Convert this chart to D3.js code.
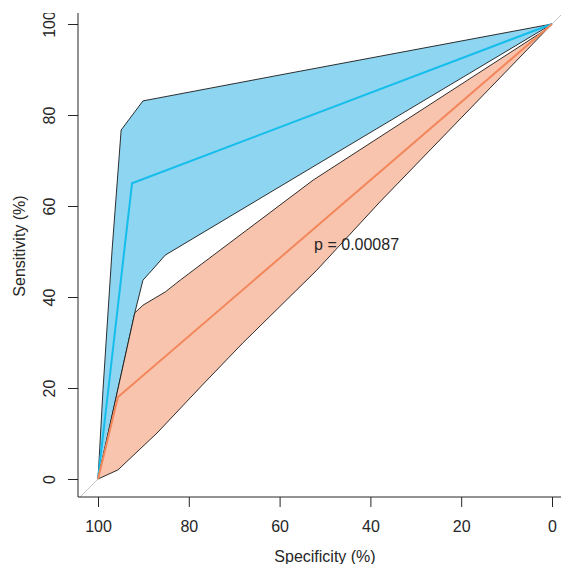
<!DOCTYPE html>
<html lang="en">
<head>
<meta charset="UTF-8"/>
<title>ROC curves</title>
<script src="https://d3js.org/d3.v7.min.js"></script>
<style type="text/css">
  body { margin: 0; background: #fff; }
  text { font-family: "Liberation Sans", Arial, sans-serif; fill: #262626; }
  .band { stroke: #1a1a1a; stroke-width: 0.9; stroke-linejoin: round; }
  .roc { fill: none; stroke-width: 2; }
</style>
</head>
<body>
<script>

// tick labels
var specTicks = [100, 80, 60, 40, 20, 0];
var sensTicks = [0, 20, 40, 60, 80, 100];

// first curve (blue) and its confidence band
var rocASpec = [100, 92.5, 0];
var rocASens = [0, 65, 100];
var bandAUpSpec = [100, 98.9, 96.9, 94.9, 90.1, 59.9, 0];
var bandAUpSens = [0, 19.6, 50.3, 76.7, 83.1, 88.8, 100];
var bandALoSpec = [0, 85.2, 88.1, 90.1, 91.9, 100];
var bandALoSens = [100, 49.2, 45.9, 43.7, 36.5, 0];

// second curve (orange) and its confidence band
var rocBSpec = [100, 95.6, 0];
var rocBSens = [0, 18, 100];
var bandBUpSpec = [100, 91.9, 90.1, 85.2, 81.9, 52.6, 1.5, 0];
var bandBUpSens = [0, 36.5, 38.2, 41.1, 43.7, 65.7, 98.7, 100];
var bandBLoSpec = [0, 37.9, 51.8, 68.1, 76.4, 87.0, 90.3, 95.6, 100];
var bandBLoSens = [100, 60.9, 45.9, 29.9, 21.3, 10.1, 7.0, 2.0, 0];

var pLabel = "p = 0.00087";

var W = 561, H = 564;
var plot = {left: 78, right: 570, top: 13, bottom: 497};

var x = d3.scaleLinear().domain([100, 0]).range([98, 552]);
var y = d3.scaleLinear().domain([0, 100]).range([479, 24]);

var svg = d3.select("body").append("svg")
    .attr("width", W)
    .attr("height", H);

svg.append("clipPath").attr("id", "plotclip")
  .append("rect")
    .attr("x", plot.left).attr("y", plot.top)
    .attr("width", plot.right - plot.left).attr("height", plot.bottom - plot.top);

var g = svg.append("g").attr("clip-path", "url(#plotclip)");

function pairs(sx, sy) {
  return sx.map(function(d, i) { return [d, sy[i]]; });
}

var line = d3.line()
    .x(function(d) { return x(d[0]); })
    .y(function(d) { return y(d[1]); });

// chance diagonal
g.append("path")
    .datum([[104, -4], [-4, 104]])
    .attr("d", line)
    .attr("stroke", "#c4c4c4")
    .attr("stroke-width", 1)
    .attr("fill", "none");

// blue band
g.append("path")
    .datum(pairs(bandAUpSpec, bandAUpSens).concat(pairs(bandALoSpec, bandALoSens)))
    .attr("class", "band")
    .attr("fill", "#8dd5f0")
    .attr("d", function(d) { return line(d) + "Z"; });

g.append("path")
    .datum(pairs(rocASpec, rocASens))
    .attr("class", "roc")
    .attr("stroke", "#14bdec")
    .attr("d", line);

// orange band
g.append("path")
    .datum(pairs(bandBUpSpec, bandBUpSens).concat(pairs(bandBLoSpec, bandBLoSens)))
    .attr("class", "band")
    .attr("fill", "#f9c4ae")
    .attr("d", function(d) { return line(d) + "Z"; });

g.append("path")
    .datum(pairs(rocBSpec, rocBSens))
    .attr("class", "roc")
    .attr("stroke", "#f3875c")
    .attr("d", line);

// p value
svg.append("text")
    .attr("x", x(52.4))
    .attr("y", 250)
    .style("font-size", "16px")
    .text(pLabel);

// axes
var xAxis = svg.append("g")
    .attr("transform", "translate(0," + plot.bottom + ")")
    .call(d3.axisBottom(x).tickValues(specTicks).tickSize(10).tickPadding(14));
xAxis.select(".domain").remove();
xAxis.selectAll("text").style("font-size", "16px");

var yAxis = svg.append("g")
    .attr("transform", "translate(" + plot.left + ",0)")
    .call(d3.axisLeft(y).tickValues(sensTicks).tickSize(10));
yAxis.select(".domain").remove();
yAxis.selectAll("text")
    .style("font-size", "16px")
    .attr("text-anchor", "middle")
    .attr("transform", "rotate(-90)")
    .attr("x", 0)
    .attr("y", -23)
    .attr("dy", 0);

svg.selectAll(".tick line").attr("stroke", "#262626");

// L-shaped frame
svg.append("path")
    .attr("d", "M" + plot.left + "," + plot.top + "V" + plot.bottom + "H" + plot.right)
    .attr("stroke", "#262626")
    .attr("fill", "none");

// axis titles
svg.append("text")
    .attr("x", 325)
    .attr("y", 562)
    .attr("text-anchor", "middle")
    .style("font-size", "16px")
    .text("Specificity (%)");

svg.append("text")
    .attr("transform", "translate(25,246) rotate(-90)")
    .attr("text-anchor", "middle")
    .style("font-size", "16px")
    .text("Sensitivity (%)");

// the figure is cut off just above the plot region
svg.append("rect")
    .attr("x", 0).attr("y", 0)
    .attr("width", W).attr("height", plot.top)
    .attr("fill", "#fff");

</script>
</body>
</html>
